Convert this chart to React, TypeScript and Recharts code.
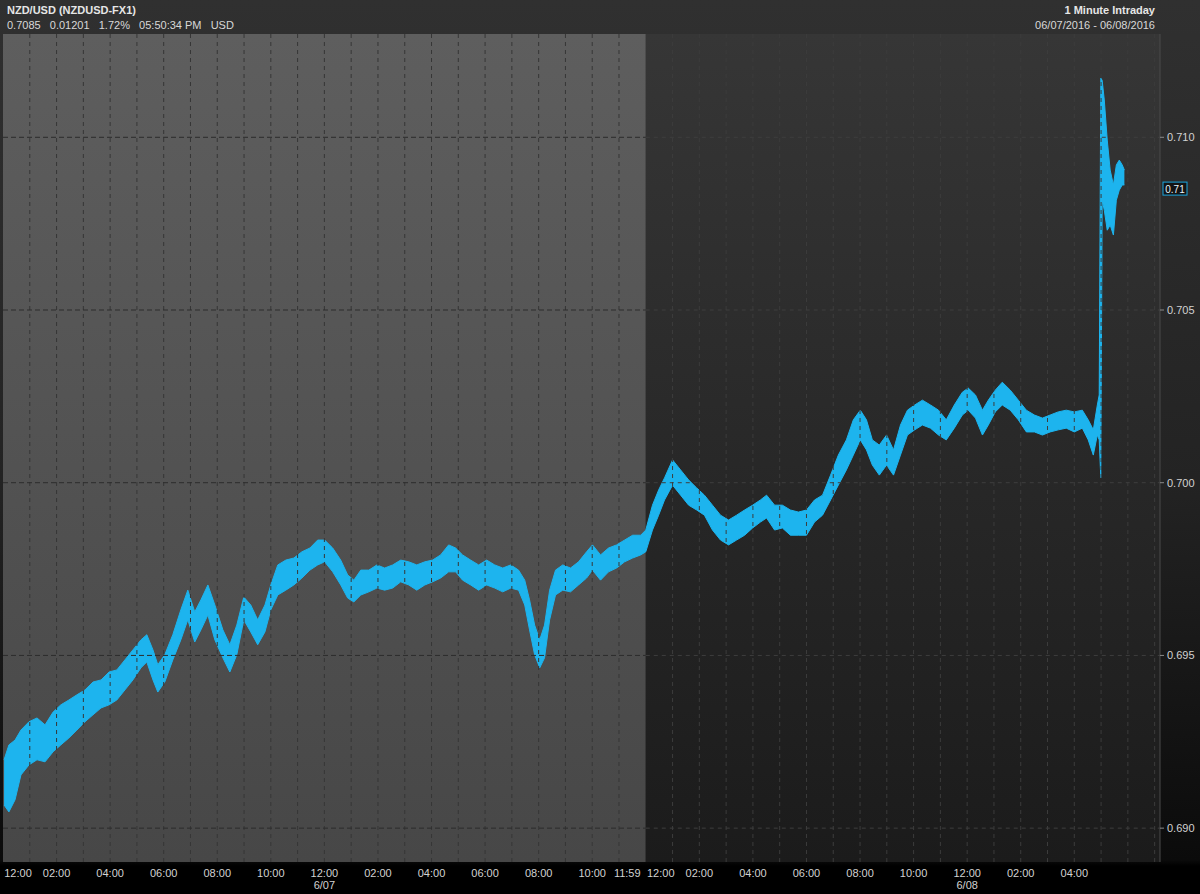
import React from 'react';
import { ComposedChart, Area, XAxis, YAxis, ReferenceArea, ReferenceLine } from 'recharts';

// hours since 12:00 PM 6/06
const hours = [0.04,0.22,0.45,0.67,0.97,1.27,1.57,1.87,2.16,2.46,2.76,3.06,3.36,3.66,3.96,4.25,4.55,4.85,5.15,5.37,5.60,5.78,6.04,6.34,6.64,6.90,7.16,7.39,7.65,7.91,8.21,8.47,8.73,8.99,9.25,9.51,9.78,10.00,10.26,10.56,10.86,11.16,11.46,11.75,12.01,12.31,12.61,12.87,13.10,13.36,13.66,13.96,14.25,14.55,14.85,15.15,15.45,15.75,16.04,16.34,16.64,16.90,17.16,17.46,17.76,18.06,18.36,18.66,18.96,19.25,19.48,19.66,19.85,20.04,20.22,20.41,20.63,20.90,21.19,21.49,21.79,22.01,22.31,22.61,22.91,23.21,23.51,23.81,24.00,24.25,24.48,24.70,25.00,25.30,25.60,25.90,26.19,26.49,26.79,27.09,27.39,27.69,27.99,28.28,28.51,28.81,29.10,29.40,29.70,30.00,30.30,30.60,30.90,31.19,31.49,31.75,32.01,32.24,32.46,32.72,32.99,33.25,33.51,33.77,34.04,34.33,34.63,34.93,35.22,35.52,35.82,36.04,36.31,36.57,36.79,37.05,37.31,37.61,37.91,38.21,38.51,38.81,39.10,39.40,39.70,40.00,40.30,40.52,40.71,40.86,40.93,40.99,41.04,41.12,41.23,41.34,41.46,41.57,41.68,41.79,41.87];

const highs = [0.69198,0.69241,0.69255,0.69284,0.69308,0.69319,0.69299,0.69336,0.69357,0.69371,0.69386,0.69400,0.69423,0.69429,0.69452,0.69458,0.69487,0.69516,0.69545,0.69560,0.69516,0.69473,0.69502,0.69560,0.69632,0.69689,0.69626,0.69661,0.69704,0.69646,0.69574,0.69531,0.69588,0.69669,0.69646,0.69603,0.69646,0.69704,0.69762,0.69776,0.69782,0.69800,0.69811,0.69834,0.69834,0.69811,0.69776,0.69733,0.69718,0.69747,0.69747,0.69762,0.69753,0.69762,0.69776,0.69771,0.69762,0.69771,0.69776,0.69791,0.69820,0.69811,0.69791,0.69776,0.69762,0.69776,0.69762,0.69753,0.69762,0.69747,0.69718,0.69661,0.69588,0.69545,0.69588,0.69689,0.69747,0.69762,0.69753,0.69771,0.69800,0.69820,0.69791,0.69811,0.69820,0.69834,0.69848,0.69848,0.69863,0.69935,0.69979,0.70014,0.70066,0.70037,0.70008,0.69985,0.69964,0.69935,0.69906,0.69892,0.69906,0.69921,0.69935,0.69950,0.69964,0.69935,0.69935,0.69921,0.69915,0.69921,0.69950,0.69964,0.70022,0.70080,0.70124,0.70182,0.70210,0.70182,0.70124,0.70109,0.70138,0.70095,0.70167,0.70210,0.70225,0.70239,0.70225,0.70210,0.70182,0.70225,0.70262,0.70274,0.70254,0.70210,0.70239,0.70268,0.70291,0.70268,0.70239,0.70210,0.70196,0.70187,0.70196,0.70205,0.70210,0.70205,0.70210,0.70182,0.70153,0.70225,0.70254,0.71171,0.71165,0.71108,0.70992,0.70905,0.70862,0.70920,0.70934,0.70920,0.70905];

const lows = [0.69067,0.69047,0.69082,0.69154,0.69183,0.69198,0.69192,0.69221,0.69241,0.69261,0.69284,0.69308,0.69328,0.69348,0.69357,0.69371,0.69400,0.69429,0.69464,0.69481,0.69429,0.69394,0.69423,0.69487,0.69545,0.69603,0.69539,0.69574,0.69617,0.69545,0.69493,0.69452,0.69502,0.69603,0.69568,0.69531,0.69568,0.69632,0.69675,0.69689,0.69704,0.69724,0.69747,0.69762,0.69771,0.69742,0.69704,0.69666,0.69655,0.69675,0.69684,0.69695,0.69689,0.69695,0.69713,0.69704,0.69689,0.69704,0.69713,0.69724,0.69742,0.69742,0.69718,0.69704,0.69689,0.69704,0.69695,0.69684,0.69695,0.69689,0.69646,0.69574,0.69502,0.69464,0.69493,0.69603,0.69675,0.69689,0.69684,0.69704,0.69724,0.69747,0.69718,0.69742,0.69753,0.69771,0.69782,0.69791,0.69800,0.69863,0.69906,0.69950,0.69993,0.69964,0.69935,0.69921,0.69906,0.69863,0.69834,0.69820,0.69834,0.69848,0.69869,0.69886,0.69898,0.69863,0.69869,0.69848,0.69848,0.69848,0.69886,0.69906,0.69950,0.69993,0.70037,0.70080,0.70124,0.70095,0.70051,0.70022,0.70051,0.70022,0.70080,0.70138,0.70153,0.70167,0.70158,0.70138,0.70124,0.70158,0.70196,0.70210,0.70187,0.70138,0.70167,0.70205,0.70225,0.70210,0.70182,0.70147,0.70147,0.70138,0.70147,0.70153,0.70158,0.70147,0.70158,0.70124,0.70080,0.70138,0.70124,0.70014,0.70818,0.70789,0.70731,0.70746,0.70717,0.70818,0.70847,0.70862,0.70862];

const xTicks = [0,2,4,6,8,10,12,14,16,18,20,22,23.98,24,26,28,30,32,34,36,38,40];
const xTickLabels = ['12:00','02:00','04:00','06:00','08:00','10:00','12:00','02:00','04:00','06:00','08:00','10:00','11:59','12:00','02:00','04:00','06:00','08:00','10:00','12:00','02:00','04:00'];
const xDateLabels = ['','','','','','','6/07','','','','','','','','','','','','','6/08','',''];
const yTicks = [0.690,0.695,0.700,0.705,0.710];
const lastPrice = 0.7085;
const sessionBreak = 24;
const xMax = 43.2;
const yMin = 0.68902;
const yMax = 0.71299;

const gridHours = Array.from({ length: 43 }, (_, i) => i + 1).filter((h) => h !== sessionBreak);

const data = hours.map((h, i) => ({ h, range: [lows[i], highs[i]] }));

const FONT = '"Liberation Sans", Arial, sans-serif';

const XTick = (props: any) => {
  const { x, y, payload, index } = props;
  const label = xTickLabels[index];
  const date = xDateLabels[index];
  let dx = 0;
  if (index === 0) dx = 15;
  else if (label === '11:59') dx = -18;
  else if (payload.value === sessionBreak) dx = 15;
  return (
    <g>
      <text x={x + dx} y={y + 7} textAnchor="middle" fill="#d2d2d2" fontSize={11} fontFamily={FONT}>{label}</text>
      {date ? (
        <text x={x + dx} y={y + 19} textAnchor="middle" fill="#d2d2d2" fontSize={11} fontFamily={FONT}>{date}</text>
      ) : null}
    </g>
  );
};

const LastLabel = (props: any) => {
  const vb = props.viewBox || {};
  const x0 = vb.x + vb.width + 3;
  const yc = vb.y;
  return (
    <g>
      <rect x={x0} y={yc - 7} width={24} height={13} fill="#141414" stroke="#1aa6df" strokeWidth={1} />
      <text x={x0 + 12} y={yc + 4} textAnchor="middle" fill="#e8f6ff" fontSize={10} fontFamily={FONT}>{lastPrice.toFixed(2)}</text>
    </g>
  );
};

export default function App() {
  return (
    <div
      style={{
        position: 'fixed',
        left: 0,
        top: 0,
        width: 1200,
        height: 894,
        background: 'linear-gradient(to bottom, #303030 0px, #232323 480px, #0b0b0b 860px, #000 866px)',
        fontFamily: FONT,
        overflow: 'hidden',
      }}
    >
      <div style={{ position: 'absolute', left: 7, top: 4, color: '#e6e6e6', fontSize: 11, fontWeight: 'bold' }}>
        NZD/USD (NZDUSD-FX1)
      </div>
      <div style={{ position: 'absolute', left: 7, top: 19, color: '#d8d8d8', fontSize: 11, whiteSpace: 'pre' }}>
        {'0.7085   0.01201   1.72%   05:50:34 PM   USD'}
      </div>
      <div style={{ position: 'absolute', right: 45, top: 4, color: '#e6e6e6', fontSize: 11, fontWeight: 'bold', textAlign: 'right' }}>
        1 Minute Intraday
      </div>
      <div style={{ position: 'absolute', right: 45, top: 19, color: '#d8d8d8', fontSize: 11, textAlign: 'right' }}>
        06/07/2016 - 06/08/2016
      </div>
      <div style={{ position: 'absolute', left: 0, top: 0 }}>
        <ComposedChart width={1200} height={894} data={data} margin={{ top: 34, right: 0, bottom: 0, left: 3 }}>
          <defs>
            <linearGradient id="grayBg" x1="0" y1="0" x2="0" y2="1">
              <stop offset="0%" stopColor="#5e5e5e" />
              <stop offset="100%" stopColor="#474747" />
            </linearGradient>
            <linearGradient id="darkBg" x1="0" y1="0" x2="0" y2="1">
              <stop offset="0%" stopColor="#363636" />
              <stop offset="100%" stopColor="#1b1b1b" />
            </linearGradient>
          </defs>
          <XAxis
            type="number"
            dataKey="h"
            domain={[0, xMax]}
            ticks={xTicks}
            interval={0}
            height={32}
            axisLine={false}
            tickLine={false}
            tick={<XTick />}
            allowDataOverflow
          />
          <YAxis
            orientation="right"
            type="number"
            domain={[yMin, yMax]}
            ticks={yTicks}
            width={40}
            interval={0}
            allowDataOverflow
            axisLine={{ stroke: '#4a4a4a' }}
            tickLine={{ stroke: '#8a8a8a' }}
            tickSize={4}
            tickMargin={3}
            tickFormatter={(v: number) => v.toFixed(3)}
            tick={{ fill: '#d2d2d2', fontSize: 11, fontFamily: FONT, textAnchor: 'start' }}
          />
          <ReferenceArea x1={0} x2={sessionBreak} y1={yMin} y2={yMax} fill="url(#grayBg)" fillOpacity={1} stroke="none" ifOverflow="hidden" />
          <ReferenceArea x1={sessionBreak} x2={xMax} y1={yMin} y2={yMax} fill="url(#darkBg)" fillOpacity={1} stroke="none" ifOverflow="hidden" />
          {gridHours.map((h) => (
            <ReferenceLine
              key={'v' + h}
              x={h}
              stroke={h < sessionBreak ? '#363636' : '#3c3c3c'}
              strokeDasharray="4 4"
            />
          ))}
          {yTicks.map((v) => (
            <ReferenceLine
              key={'hg' + v}
              segment={[{ x: 0, y: v }, { x: sessionBreak, y: v }]}
              stroke="#2c2c2c"
              strokeDasharray="5 3"
            />
          ))}
          {yTicks.map((v) => (
            <ReferenceLine
              key={'hd' + v}
              segment={[{ x: sessionBreak, y: v }, { x: xMax, y: v }]}
              stroke="#3e3e3e"
              strokeDasharray="4 4"
            />
          ))}
          <Area
            type="linear"
            dataKey="range"
            stroke="#1db4ee"
            strokeWidth={1}
            fill="#1db4ee"
            fillOpacity={1}
            isAnimationActive={false}
            dot={false}
            activeDot={false}
          />
          <ReferenceLine y={lastPrice} stroke="none" label={<LastLabel />} />
        </ComposedChart>
      </div>
    </div>
  );
}
